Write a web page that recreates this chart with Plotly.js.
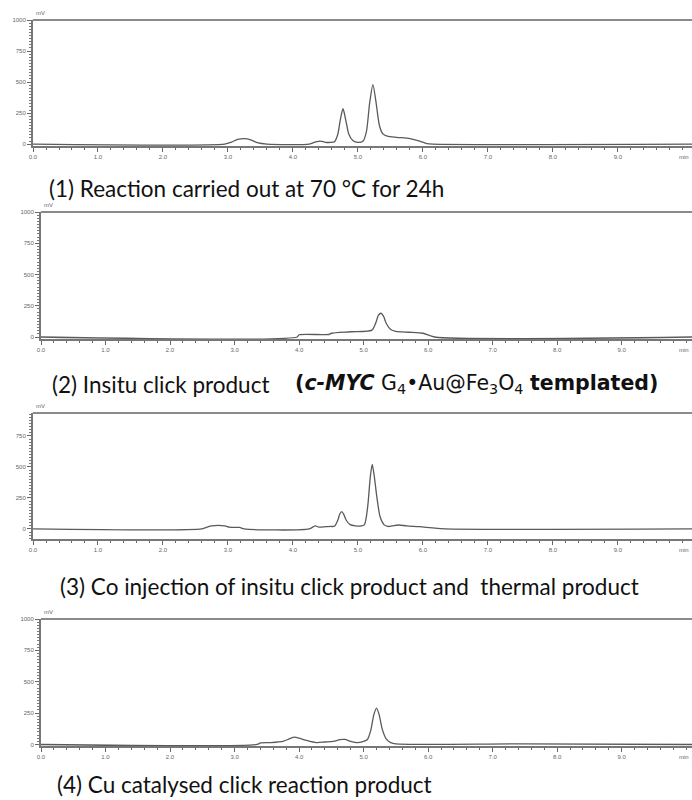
<!DOCTYPE html>
<html>
<head>
<meta charset="utf-8">
<script src="https://cdn.plot.ly/plotly-3.0.1.min.js"></script>
<style>
  html, body { margin: 0; padding: 0; background: #fff; }
  #chart { width: 692px; height: 800px; }
</style>
</head>
<body>
<div id="chart"></div>
<script>
// HPLC chromatograms: retention time (min) vs detector signal (mV)

// (1) thermal reaction, 70 °C, 24 h
const time1 = [0, 2.95, 3.05, 3.15, 3.25, 3.35, 3.45, 3.6, 4.25, 4.35, 4.42, 4.5, 4.58, 4.64, 4.69, 4.73, 4.77, 4.81, 4.86, 4.92, 5.0, 5.08, 5.13, 5.18, 5.23, 5.28, 5.33, 5.38, 5.45, 5.6, 5.8, 5.95, 6.06, 6.15, 10.14];
const signal1 = [0, 0, 15, 38, 45, 35, 12, 0, 0, 18, 25, 15, 14, 20, 80, 200, 285, 200, 80, 30, 14, 25, 100, 330, 480, 330, 150, 85, 65, 55, 45, 25, 5, 0, 0];

// (2) in situ click product, c-MYC G4•Au@Fe3O4 templated
const time2 = [0, 3.97, 4.0, 4.46, 4.5, 4.8, 5.13, 5.19, 5.23, 5.27, 5.31, 5.35, 5.42, 5.5, 5.7, 5.92, 6.1, 10.09];
const signal2 = [0, 0, 18, 20, 30, 42, 55, 115, 175, 190, 165, 110, 60, 45, 38, 30, 0, 0];

// (3) co-injection of in situ click product and thermal product
const time3 = [0, 2.6, 2.68, 2.75, 2.95, 3.02, 3.1, 3.18, 3.25, 4.25, 4.34, 4.4, 4.5, 4.58, 4.64, 4.69, 4.72, 4.75, 4.78, 4.82, 4.88, 4.96, 5.05, 5.1, 5.15, 5.19, 5.22, 5.25, 5.29, 5.34, 5.4, 5.46, 5.53, 5.62, 5.75, 5.95, 6.15, 6.34, 10.14];
const signal3 = [0, 0, 15, 25, 25, 15, 12, 12, 0, 0, 25, 15, 18, 20, 22, 70, 120, 140, 120, 70, 35, 25, 24, 35, 180, 420, 520, 430, 260, 100, 35, 20, 25, 32, 25, 18, 8, 0, 0];

// (4) Cu-catalysed click reaction product
const time4 = [0, 3.35, 3.4, 3.55, 3.75, 3.85, 3.93, 4.0, 4.1, 4.27, 4.4, 4.53, 4.63, 4.71, 4.8, 4.9, 5.0, 5.06, 5.11, 5.16, 5.2, 5.24, 5.29, 5.35, 5.42, 5.5, 7.45, 10.09];
const signal4 = [0, 0, 12, 15, 25, 45, 58, 50, 35, 15, 20, 25, 38, 40, 25, 15, 25, 40, 110, 240, 290, 240, 120, 45, 15, 5, 5, 0];

// Axis ticks
const timeTicks = [0, 1, 2, 3, 4, 5, 6, 7, 8, 9];
const signalTicks = [0, 250, 500, 750, 1000];

// Panel captions
const captions = [
  "(1) Reaction carried out at 70 °C for 24h",
  "(2) Insitu click product",
  "<b>(<i>c-MYC</i></b> G<sub>4</sub>•Au@Fe<sub>3</sub>O<sub>4</sub> <b>templated)</b>",
  "(3) Co injection of insitu click product and  thermal product",
  "(4) Cu catalysed click reaction product"
];

const W = 692, H = 800;
const px = v => v / W;
const py = v => 1 - v / H;

// panel frames in pixels: left edge of the time axis, top and bottom of the plot area
const panels = [
  { left: 33, top: 20,  bottom: 146, xr: [0, 10.14], yr: [-15, 1000] },
  { left: 41, top: 212, bottom: 339, xr: [0, 10.09], yr: [-16, 1000] },
  { left: 33, top: 413, bottom: 539, xr: [0, 10.14], yr: [-81, 935] },
  { left: 41, top: 619, bottom: 746, xr: [0, 10.09], yr: [-12, 1000] }
];
const series = [[time1, signal1], [time2, signal2], [time3, signal3], [time4, signal4]];

const tickFont = { family: "Liberation Sans, Arial, sans-serif", size: 6, color: "#666" };
const traceColor = "#5a5a5a";

const data = [];
const layout = {
  width: W, height: H,
  margin: { l: 0, r: 0, t: 0, b: 0 },
  paper_bgcolor: "#fff", plot_bgcolor: "#fff",
  showlegend: false,
  shapes: [], annotations: []
};

panels.forEach((p, i) => {
  const n = i + 1;
  const xa = "xaxis" + (n === 1 ? "" : n);
  const ya = "yaxis" + (n === 1 ? "" : n);
  const xr = "x" + (n === 1 ? "" : n);
  const yr = "y" + (n === 1 ? "" : n);

  data.push({
    x: series[i][0], y: series[i][1],
    xaxis: xr, yaxis: yr,
    type: "scatter", mode: "lines",
    line: { color: traceColor, width: 1.3, shape: "spline", smoothing: 0.7 },
    hoverinfo: "skip"
  });

  layout[xa] = {
    domain: [px(p.left), 1], range: p.xr, anchor: yr,
    showgrid: false, zeroline: false,
    showline: true, linecolor: "#777", linewidth: 2,
    ticks: "outside", ticklen: 4, tickcolor: "#666", tickwidth: 1,
    tickvals: timeTicks, tickformat: ".1f",
    minor: { dtick: 0.2, tick0: 0, ticks: "outside", ticklen: 2, tickcolor: "#666", showgrid: false },
    tickfont: tickFont, fixedrange: true
  };
  layout[ya] = {
    domain: [py(p.bottom), py(p.top)], range: p.yr, anchor: xr,
    showgrid: false, zeroline: false,
    showline: true, linecolor: "#777", linewidth: 2,
    ticks: "outside", ticklen: 4, tickcolor: "#666", tickwidth: 1,
    tickvals: signalTicks,
    minor: { dtick: 25, tick0: 0, ticks: "outside", ticklen: 2, tickcolor: "#777", showgrid: false },
    tickfont: tickFont, fixedrange: true
  };

  // top frame line
  layout.shapes.push({
    type: "line", xref: "paper", yref: yr + " domain",
    x0: px(p.left), x1: 1, y0: 1, y1: 1,
    line: { color: "#8a8a8a", width: 2 }
  });

  // unit labels
  layout.annotations.push({
    xref: "paper", yref: "paper", x: px(p.left + 1), y: py(p.top - 2),
    xanchor: "left", yanchor: "bottom", showarrow: false,
    text: "mV", font: { family: tickFont.family, size: 6, color: "#666" }
  });
  layout.annotations.push({
    xref: "paper", yref: "paper", x: px(691), y: py(p.bottom + 11),
    xanchor: "right", yanchor: "middle", showarrow: false,
    text: "min", font: { family: tickFont.family, size: 6, color: "#666" }
  });
});

// captions below each panel
const capFont = { family: "Lato, Carlito, Calibri, sans-serif", size: 22.5, color: "#111" };
const capPos = [[47, 188], [50, 384], [58, 586], [55, 784]];
[captions[0], captions[1], captions[3], captions[4]].forEach((t, i) => {
  layout.annotations.push({
    xref: "paper", yref: "paper", x: px(capPos[i][0]), y: py(capPos[i][1]),
    xanchor: "left", yanchor: "middle", showarrow: false,
    text: t, font: capFont
  });
});
layout.annotations.push({
  xref: "paper", yref: "paper", x: px(293), y: py(384),
  xanchor: "left", yanchor: "middle", showarrow: false,
  text: captions[2],
  font: { family: "DejaVu Sans, Verdana, sans-serif", size: 20.5, color: "#111" }
});

Plotly.newPlot("chart", data, layout, { staticPlot: true, displayModeBar: false });
</script>
</body>
</html>
